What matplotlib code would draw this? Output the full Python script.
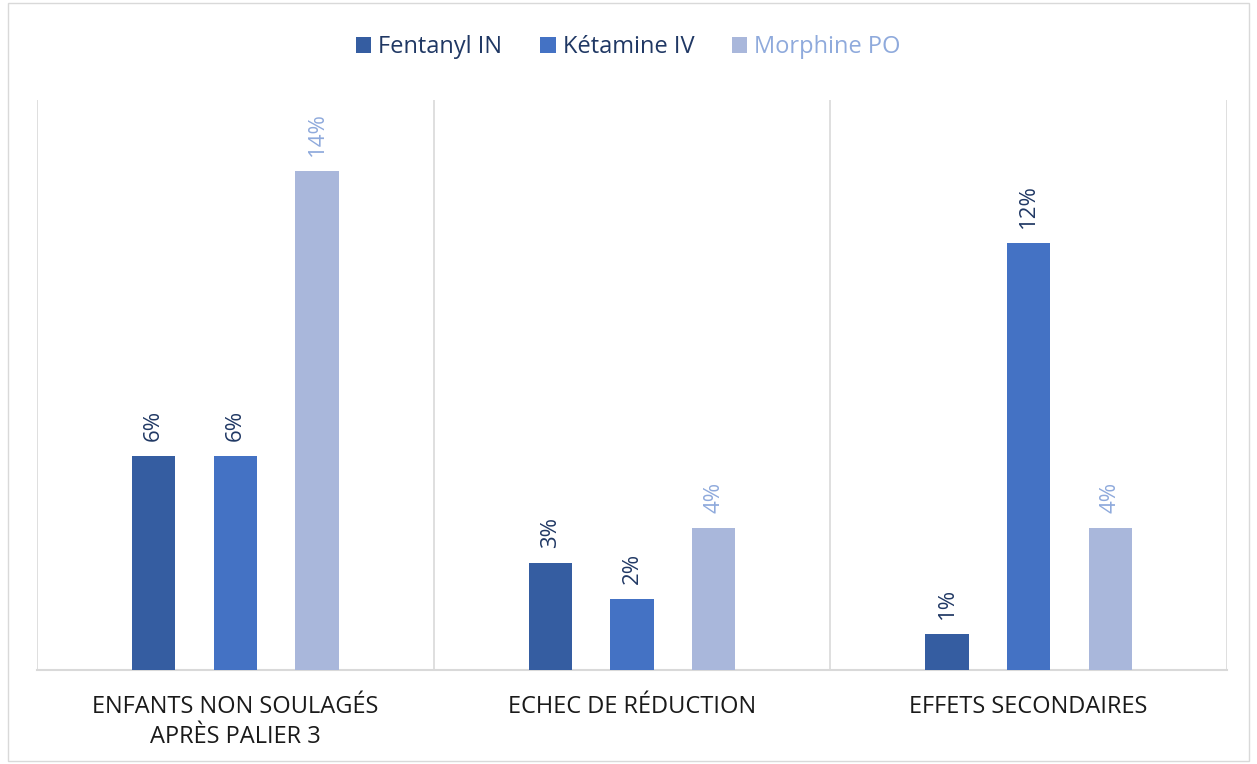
import matplotlib
matplotlib.use("Agg")
import matplotlib.pyplot as plt
from matplotlib.patches import Rectangle
import numpy as np

plt.rcParams['font.family'] = ['Open Sans', 'DejaVu Sans']

categories = ["ENFANTS NON SOULAGÉS\nAPRÈS PALIER 3", "ECHEC DE RÉDUCTION", "EFFETS SECONDAIRES"]
series_names = ["Fentanyl IN", "Kétamine IV", "Morphine PO"]
fentanyl = [6, 3, 1]
ketamine = [6, 2, 12]
morphine = [14, 4, 4]
values = [fentanyl, ketamine, morphine]
bar_colors = ["#355DA1", "#4472C4", "#A9B7DB"]
label_colors = ["#203864", "#203864", "#8FAADC"]

fig = plt.figure(figsize=(12.57, 7.64), dpi=100)
fig.patches.append(Rectangle((0.006, 0.004), 0.988, 0.992, transform=fig.transFigure,
                             fill=False, edgecolor="#D9D9D9", linewidth=1.0))
ax = fig.add_axes([37/1257, 1 - 670/764, (1227-37)/1257, (670-100)/764])

x = np.arange(len(categories))
width = 0.109
offsets = [-0.206, 0, 0.206]
handles = []
for i, (vals, col, lc) in enumerate(zip(values, bar_colors, label_colors)):
    b = ax.bar(x + offsets[i], vals, width, color=col, label=series_names[i], zorder=3)
    handles.append(b)
    for xi, v in zip(x + offsets[i], vals):
        ax.text(xi, v + 0.42, f"{v}%", rotation=90, ha="center", va="bottom",
                fontsize=16, color=lc)

ax.set_xlim(-0.5, 2.5)
ax.set_ylim(0, 16)
ax.set_yticks([])
ax.set_xticks(x)
ax.set_xticklabels(categories, fontsize=17, color="#1a1a1a", linespacing=1.35)
ax.tick_params(axis="x", length=0, pad=18)
for s in ["top", "right", "left"]:
    ax.spines[s].set_visible(False)
ax.spines["bottom"].set_color("#D9D9D9")
ax.spines["bottom"].set_linewidth(1.5)
for b in [-0.5, 0.5, 1.5, 2.5]:
    ax.axvline(b, color="#D9D9D9", linewidth=1.2, zorder=1)

leg = fig.legend(handles=handles, labels=series_names, loc="center", bbox_to_anchor=(0.5, 1 - 47/764),
                 ncol=3, frameon=False, fontsize=17, handlelength=0.65, handleheight=0.65,
                 handletextpad=0.3, columnspacing=1.6)
for t, c in zip(leg.get_texts(), ["#203864", "#203864", "#8FAADC"]):
    t.set_color(c)

fig.savefig("out.png", dpi=100)
